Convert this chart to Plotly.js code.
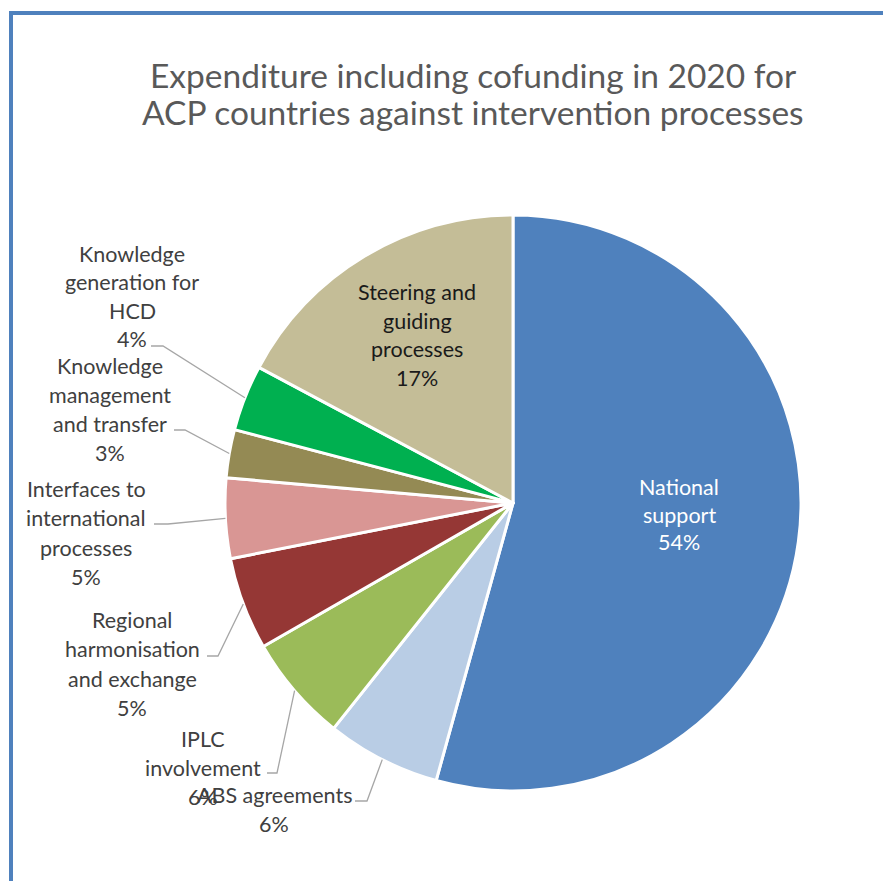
<!DOCTYPE html>
<html>
<head>
<meta charset="utf-8">
<script src="https://cdn.plot.ly/plotly-3.0.1.min.js"></script>
<style>html,body{margin:0;padding:0;background:#fff;}#chart{width:883px;height:881px;}</style>
</head>
<body>
<div id="chart"></div>
<script>
// ---- data ----
const categories = ['National support', 'ABS agreements', 'IPLC involvement',
  'Regional harmonisation and exchange', 'Interfaces to international processes',
  'Knowledge management and transfer', 'Knowledge generation for HCD',
  'Steering and guiding processes'];
const values = [54.3, 6.4, 6.0, 5.2, 4.5, 2.7, 3.7, 17.2];
const colors = ['#4F81BD', '#B9CDE5', '#9BBB59', '#953735', '#D99694', '#948A54', '#00B050', '#C4BD97'];
const labelLines = [
  ['National', 'support'],
  ['ABS agreements'],
  ['IPLC', 'involvement'],
  ['Regional', 'harmonisation', 'and exchange'],
  ['Interfaces to', 'international', 'processes'],
  ['Knowledge', 'management', 'and transfer'],
  ['Knowledge', 'generation for', 'HCD'],
  ['Steering and', 'guiding', 'processes']
];
const titleLines = ['Expenditure including cofunding in 2020 for', 'ACP countries against intervention processes'];

// ---- layout config (pixels) ----
const W = 883, H = 881;
const CX = 513, CY = 503, R = 288;
// label placement: centre x, first line y, line step, colour, leader [startX, startY, elbowX] or null
const labelPlace = [
  {x: 679, y: 487, step: 27.5, color: '#FFFFFF', leader: null},
  {x: 274, y: 795, step: 28.5, color: '#404040', leader: [355, 801, 367]},
  {x: 203, y: 739, step: 29, color: '#404040', leader: [267, 773, 277]},
  {x: 132, y: 620, step: 29.3, color: '#404040', leader: [207, 656, 218]},
  {x: 86, y: 489, step: 29.3, color: '#404040', leader: [154, 524, 168]},
  {x: 110, y: 366, step: 29, color: '#404040', leader: [174, 430, 185]},
  {x: 132, y: 254, step: 28.3, color: '#404040', leader: [151, 346, 163]},
  {x: 417, y: 292, step: 28.7, color: '#1A1A1A', leader: null}
];

const px = v => v / W;
const py = v => 1 - v / H;
const total = values.reduce((a, b) => a + b, 0);

const FONT = 'Lato, "Open Sans", sans-serif';
const annotations = [];
const shapes = [];

// title
titleLines.forEach((t, i) => {
  annotations.push({text: t, x: px(473), y: py(75 + i * 37), xref: 'paper', yref: 'paper',
    xanchor: 'center', yanchor: 'middle', showarrow: false,
    font: {family: FONT, size: 33.5, color: '#595959'}});
});

let cum = 0;
values.forEach((v, i) => {
  const pct = Math.round(v / total * 100) + '%';
  const lines = labelLines[i].concat([pct]);
  const p = labelPlace[i];
  lines.forEach((t, j) => {
    annotations.push({text: t, x: px(p.x), y: py(p.y + j * p.step), xref: 'paper', yref: 'paper',
      xanchor: 'center', yanchor: 'middle', showarrow: false,
      font: {family: FONT, size: 21.5, color: p.color}});
  });
  const mid = 2 * Math.PI * (cum + v / 2) / total;
  if (p.leader) {
    const ax = CX + R * Math.sin(mid), ay = CY - R * Math.cos(mid);
    const [sx, sy, ex] = p.leader;
    shapes.push({type: 'path', xref: 'paper', yref: 'paper',
      path: `M ${px(sx)},${py(sy)} L ${px(ex)},${py(sy)} L ${px(ax)},${py(ay)}`,
      line: {color: '#A6A6A6', width: 1.3}});
  }
  cum += v;
});

// chart border (left and top edges visible)
shapes.push({type: 'line', xref: 'paper', yref: 'paper', x0: px(11), x1: px(11), y0: py(13), y1: -0.02,
  line: {color: '#4F81BD', width: 4}});
shapes.push({type: 'line', xref: 'paper', yref: 'paper', x0: px(9), x1: 1.02, y0: py(13), y1: py(13),
  line: {color: '#4F81BD', width: 4}});

const trace = {
  type: 'pie',
  labels: categories,
  values: values,
  sort: false,
  direction: 'clockwise',
  rotation: 0,
  textinfo: 'none',
  hoverinfo: 'label+percent',
  marker: {colors: colors, line: {color: '#FFFFFF', width: 3}},
  domain: {x: [px(CX - R), px(CX + R)], y: [py(CY + R), py(CY - R)]},
  showlegend: false
};

const layout = {
  width: W, height: H,
  margin: {l: 0, r: 0, t: 0, b: 0},
  paper_bgcolor: '#FFFFFF',
  plot_bgcolor: '#FFFFFF',
  showlegend: false,
  annotations: annotations,
  shapes: shapes
};

Plotly.newPlot('chart', [trace], layout, {displayModeBar: false, staticPlot: true});
</script>
</body>
</html>
